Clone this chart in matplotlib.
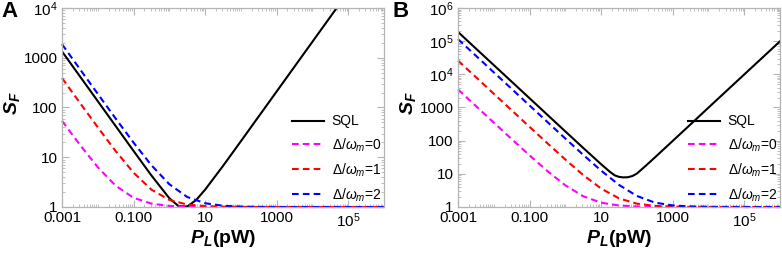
import numpy as np
import matplotlib
matplotlib.use("Agg")
import matplotlib.pyplot as plt
from matplotlib.ticker import FixedLocator, LogLocator, NullFormatter

plt.rcParams['font.family'] = ['Liberation Sans', 'DejaVu Sans']
plt.rcParams['mathtext.fontset'] = 'custom'
plt.rcParams['mathtext.rm'] = 'Liberation Sans'
plt.rcParams['mathtext.it'] = 'Liberation Sans:italic'
plt.rcParams['mathtext.bf'] = 'Liberation Sans:bold'
plt.rcParams['mathtext.bfit'] = 'Liberation Sans:italic:bold'

# laser power P_L (pW), half-decade grid
P = [1e-3, 3.16e-3, 1e-2, 3.16e-2, 0.1, 0.316, 1, 3.16, 10, 31.6, 100,
     316, 1e3, 3.16e3, 1e4, 3.16e4, 1e5, 3.16e5, 1e6]

# panel A
P_sql_a = [1e-3, 3.16e-3, 1e-2, 3.16e-2, 0.1, 0.316, 1, 1.78, 3.16, 5.62, 10,
           31.6, 100, 316, 1e3, 3.16e3, 1e4, 3.16e4, 1e5]
sql_a = [1340, 424, 134, 42.4, 13.4, 4.3, 1.5, 1.05, 1.02, 1.38, 2.23,
         6.68, 21, 66.4, 210, 664, 2100, 6640, 21000]
d0_a = [54, 17.8, 6.3, 2.68, 1.53, 1.17, 1.05, 1.017, 1.005, 1.002, 1.0,
        1, 1, 1, 1, 1, 1, 1, 1]
d1_a = [391, 124, 40, 13.3, 4.9, 2.23, 1.39, 1.12, 1.04, 1.012, 1.004,
        1.001, 1, 1, 1, 1, 1, 1, 1]
d2_a = [1871, 592, 188, 60, 19.7, 6.9, 2.87, 1.59, 1.19, 1.06, 1.019,
        1.006, 1.002, 1, 1, 1, 1, 1, 1]

# panel B
P_sql_b = [1e-3, 3.16e-3, 1e-2, 3.16e-2, 0.1, 0.316, 1, 3.16, 10, 17.8, 24, 31.6,
           42, 56.2, 75, 100, 178, 316, 1e3, 3.16e3, 1e4, 3.16e4, 1e5, 3.16e5, 1e6]
sql_b = [1.9e5, 6.0e4, 1.9e4, 6010, 1900, 601, 190, 60.4, 19.5, 11.4, 9.0, 8.1,
         7.8, 7.9, 8.6, 10.2, 17.6, 31, 98, 310, 990, 3130, 9900, 3.13e4, 9.9e4]
d0_b = [3501, 1108, 351, 111.7, 36, 12.1, 4.5, 2.11, 1.35, 1.11, 1.035,
        1.011, 1.0035, 1.001, 1, 1, 1, 1, 1]
d1_b = [26001, 8229, 2601, 824, 261, 83.3, 27, 9.2, 3.6, 1.82, 1.26,
        1.082, 1.026, 1.008, 1.0026, 1.001, 1, 1, 1]
d2_b = [115001, 36393, 11501, 3640, 1151, 365, 116, 37.4, 12.5, 4.64, 2.15,
        1.36, 1.115, 1.036, 1.0115, 1.004, 1.001, 1, 1]

xticks = [1e-3, 1e-1, 10, 1e3, 1e5]
xticklabels = ['0.001', '0.100', '10', '1000', r'$10^5$']
yticks_a = [1, 10, 100, 1000, 1e4]
yticklabels_a = ['1', '10', '100', '1000', r'$10^4$']
yticks_b = [1, 10, 100, 1000, 1e4, 1e5, 1e6]
yticklabels_b = ['1', '10', '100', '1000', r'$10^4$', r'$10^5$', r'$10^6$']
labels = ['SQL', r'$\Delta/\omega_m$=0', r'$\Delta/\omega_m$=1', r'$\Delta/\omega_m$=2']

frame_col = '#b4b4b4'
dash = (0, (3.2, 2.0))

fig = plt.figure(figsize=(7.82, 2.58), dpi=100)
ax_a = fig.add_axes([62/782, 51/258, 322/782, 199/258])
ax_b = fig.add_axes([458/782, 51/258, 322/782, 199/258])

panels = [
    (ax_a, P_sql_a, sql_a, d0_a, d1_a, d2_a, yticks_a, yticklabels_a, 1e4, 'A', 1/782),
    (ax_b, P_sql_b, sql_b, d0_b, d1_b, d2_b, yticks_b, yticklabels_b, 1e6, 'B', 392/782),
]

for ax, px, sql, d0, d1, d2, yt, ytl, ymax, letter, lx in panels:
    ax.plot(px, sql, color='black', lw=1.5, label=labels[0])
    ax.plot(P, d0, color='#ff00ff', lw=1.5, ls=dash, label=labels[1], clip_on=False)
    ax.plot(P, d1, color='#ff0000', lw=1.5, ls=dash, label=labels[2], clip_on=False)
    ax.plot(P, d2, color='#0000ff', lw=1.5, ls=dash, label=labels[3], clip_on=False)
    ax.set_xscale('log')
    ax.set_yscale('log')
    ax.set_xlim(1e-3, 1e6)
    ax.set_ylim(1, ymax)

    ax.xaxis.set_major_locator(FixedLocator(xticks))
    ax.set_xticklabels(xticklabels)
    ax.xaxis.set_minor_locator(LogLocator(base=10, subs=np.arange(1, 10), numticks=30))
    ax.xaxis.set_minor_formatter(NullFormatter())
    ax.yaxis.set_major_locator(FixedLocator(yt))
    ax.set_yticklabels(ytl)
    ax.yaxis.set_minor_locator(LogLocator(base=10, subs=np.arange(1, 10), numticks=30))
    ax.yaxis.set_minor_formatter(NullFormatter())

    ax.tick_params(which='both', direction='in', top=True, right=True,
                   color=frame_col, labelsize=11, pad=3)
    ax.tick_params(which='major', length=5, width=0.8)
    ax.tick_params(which='minor', length=2.5, width=0.6)
    for s in ax.spines.values():
        s.set_color(frame_col)
        s.set_linewidth(0.9)

    ax.set_xlabel(r'$\mathbfit{P}_{\mathbfit{L}}$(pW)', fontsize=14, fontweight='bold')
    ax.xaxis.set_label_coords(0.5, -0.105)
    ax.set_ylabel(r'$\mathbfit{S}_{\mathbfit{F}}$', fontsize=14, fontweight='bold')
    ax.yaxis.set_label_coords(-0.125, 0.52)

    ax.legend(loc='upper left', bbox_to_anchor=(0.715, 0.465), frameon=False,
              fontsize=10, handlelength=2.3, handletextpad=0.55,
              labelspacing=0.55, borderpad=0, borderaxespad=0)

    fig.text(lx, 1 - 1/258, letter, fontsize=16, fontweight='bold',
             ha='left', va='top')

fig.savefig('out.png', dpi=100)
